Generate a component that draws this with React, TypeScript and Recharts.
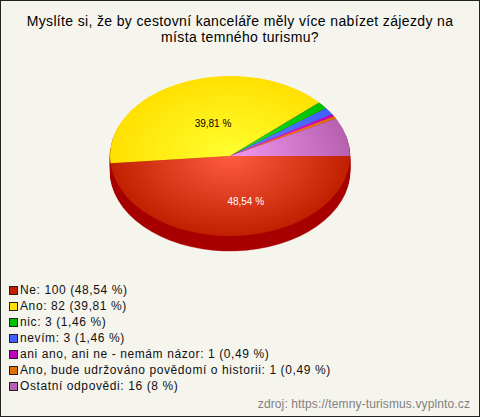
import { Pie, PieChart, Sector } from "recharts";

const labels = ["Ne", "Ano", "nic", "nevím", "ani ano, ani ne - nemám názor", "Ano, bude udržováno povědomí o historii", "Ostatní odpovědi"];
const values = [100, 82, 3, 3, 1, 1, 16];
const percents = ["48,54", "39,81", "1,46", "1,46", "0,49", "0,49", "8"];
const colors = ["#c02000", "#ffe000", "#00c000", "#4060ff", "#c000c0", "#e07000", "#b860b0"];
const centers = ["#ff5c40", "#ffff30", "#20e030", "#6080ff", "#ff30ff", "#ff9020", "#f098f0"];
const shownLabels = ["48,54 %", "39,81 %"];
const depths = [15, 14, 13, 12, 11, 10, 9, 8, 7, 6, 5, 4, 3, 2, 1];

const data = labels.map((name, i) => ({ name, value: values[i], fill: `url(#slice${i})` }));
const sideData = labels.map((name, i) => ({ name, value: values[i], fill: "#a80000" }));

const CX = 230;
const CY = 156;
const RX = 120;
const SQUASH = 80 / 120;

// recharts pies are round, so squash each sector into the tilted ellipse
function FlatSector(props: any) {
  const { cx, cy } = props;
  return (
    <g transform={`translate(${cx} ${cy}) scale(1 ${SQUASH}) translate(${-cx} ${-cy})`}>
      <Sector {...props} />
    </g>
  );
}

function SliceLabel(props: any) {
  const { cx, cy, midAngle, outerRadius, index } = props;
  if (index > 1) return null;
  const rad = (midAngle * Math.PI) / 180;
  const x = cx + (outerRadius / 2) * Math.cos(rad) + (index === 0 ? 13 : 7);
  const y = cy - (outerRadius / 2) * SQUASH * Math.sin(rad) + (index === 0 ? 6 : 5);
  return (
    <text x={x} y={y} textAnchor="middle" dominantBaseline="middle" fontSize={10} fill={index === 0 ? "#ffffff" : "#000000"}>
      {shownLabels[index]}
    </text>
  );
}

function LegendList() {
  return (
    <div style={{ position: "absolute", left: 8, top: 281, fontSize: 12, color: "#111", letterSpacing: 0.6, whiteSpace: "nowrap" }}>
      {labels.map((name, i) => (
        <div key={name} style={{ display: "flex", alignItems: "center", height: 16 }}>
          <span style={{ width: 7, height: 7, marginRight: 2, background: colors[i], border: "1px solid #222" }} />
          <span>{`${name}: ${values[i]} (${percents[i]} %)`}</span>
        </div>
      ))}
    </div>
  );
}

export default function App() {
  return (
    <div
      style={{
        position: "absolute",
        left: 0,
        top: 0,
        width: 480,
        height: 417,
        boxSizing: "border-box",
        border: "1px solid #222",
        background: "#f5f5ee",
        fontFamily: "'Liberation Sans', Arial, sans-serif",
      }}
    >
      <div style={{ position: "absolute", left: -1, top: 12, width: 480, textAlign: "center", fontSize: 14, lineHeight: "16px", letterSpacing: 0.35, color: "#000" }}>
        Myslíte si, že by cestovní kanceláře měly více nabízet zájezdy na
        <br />
        místa temného turismu?
      </div>
      <div style={{ position: "absolute", left: -1, top: -1 }}>
        <PieChart width={480} height={417} margin={{ top: 0, right: 0, bottom: 0, left: 0 }}>
          <defs>
            {colors.map((c, i) => (
              <radialGradient key={c} id={`slice${i}`} gradientUnits="userSpaceOnUse" cx={CX} cy={CY} r={RX}>
                <stop offset="0%" stopColor={centers[i]} />
                <stop offset="100%" stopColor={c} />
              </radialGradient>
            ))}
          </defs>
          {depths.map((d) => (
            <Pie
              key={d}
              data={sideData}
              dataKey="value"
              cx={CX}
              cy={CY + d}
              outerRadius={RX}
              startAngle={0}
              endAngle={-360}
              stroke="#a80000"
              strokeWidth={0.5}
              shape={FlatSector}
              isAnimationActive={false}
            />
          ))}
          <Pie
            data={data}
            dataKey="value"
            cx={CX}
            cy={CY}
            outerRadius={RX}
            startAngle={0}
            endAngle={-360}
            stroke="none"
            shape={FlatSector}
            label={SliceLabel}
            labelLine={false}
            isAnimationActive={false}
          />
        </PieChart>
      </div>
      <LegendList />
      <div style={{ position: "absolute", right: 9, top: 396, fontSize: 12, color: "#808080", letterSpacing: 0.12 }}>
        zdroj: https://temny-turismus.vyplnto.cz
      </div>
    </div>
  );
}
